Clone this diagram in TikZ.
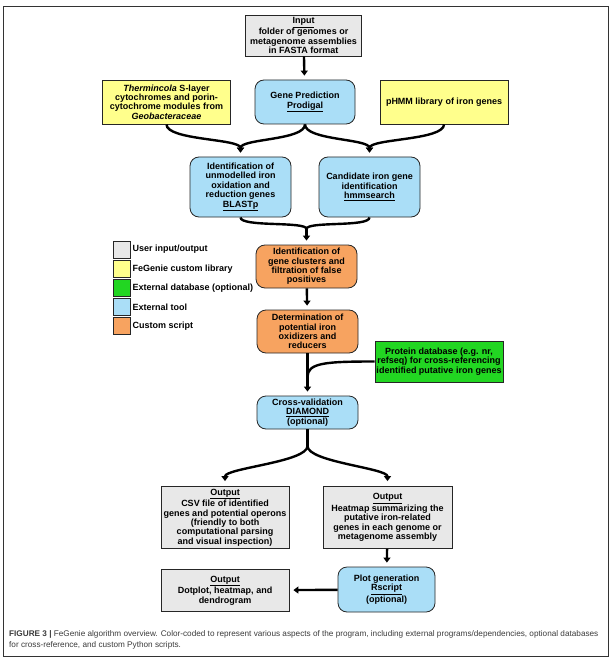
\documentclass[tikz,border=0pt]{standalone}
\usepackage{fontspec}
\setmainfont{Liberation Sans}
\usetikzlibrary{arrows.meta}

\definecolor{usergray}{RGB}{232,232,232}
\definecolor{libyellow}{RGB}{255,255,140}
\definecolor{dbgreen}{RGB}{34,214,34}
\definecolor{toolblue}{RGB}{170,222,247}
\definecolor{scriptorange}{RGB}{247,163,96}
\definecolor{captiongray}{RGB}{60,60,60}

\begin{document}
\begin{tikzpicture}[
    x=1pt, y=-1pt,
    block/.style={draw=black!85, line width=0.8pt, align=center, inner sep=1pt,
        font=\bfseries\fontsize{9}{9.4}\selectfont},
    userbox/.style={block, fill=usergray},
    libbox/.style={block, fill=libyellow},
    dbbox/.style={block, fill=dbgreen},
    toolbox/.style={block, fill=toolblue, rounded corners=9pt},
    scriptbox/.style={block, fill=scriptorange, rounded corners=9pt},
    legsq/.style={draw=black!85, line width=0.8pt, minimum size=17pt, inner sep=0pt},
    legtext/.style={anchor=west, inner sep=0pt, font=\bfseries\fontsize{9}{9.4}\selectfont},
    flow/.style={line width=2.4pt, black},
    flowarr/.style={flow, -{Triangle[length=5pt,width=7pt]}, shorten >=4pt},
]
\useasboundingbox (0,0) rectangle (612,660);
\fill[white] (0,0) rectangle (612,660);
\draw[black!80, line width=0.8pt] (3,6) rectangle (608,656);

% boxes
\node[userbox, minimum width=116pt, minimum height=41pt] (input) at (303.5,35.5) {\underline{Input}\\folder of genomes or\\metagenome assemblies\\in FASTA format};
\node[toolbox, minimum width=100pt, minimum height=44pt] (genepred) at (305,102) {Gene Prediction\\\underline{Prodigal}};
\node[libbox, minimum width=128pt, minimum height=44pt] (thermin) at (166.5,102) {\textit{Thermincola} S-layer\\cytochromes and porin-\\cytochrome modules from\\\textit{Geobacteraceae}};
\node[libbox, minimum width=128pt, minimum height=44pt] (phmm) at (444,102) {pHMM library of iron genes};
\node[toolbox, minimum width=101pt, minimum height=60pt] (blastp) at (240.5,187) {Identification of\\unmodelled iron\\oxidation and\\reduction genes\\\underline{BLASTp}};
\node[toolbox, minimum width=101pt, minimum height=60pt] (hmmsearch) at (369.5,187) {Candidate iron gene\\identification\\\underline{hmmsearch}};
\node[scriptbox, minimum width=101pt, minimum height=43pt] (filtr) at (306.5,266.5) {Identification of\\gene clusters and\\filtration of false\\positives};
\node[scriptbox, minimum width=101pt, minimum height=43pt] (determ) at (307.5,331.5) {Determination of\\potential iron\\oxidizers and\\reducers};
\node[dbbox, minimum width=128pt, minimum height=41pt] (protein) at (439,361.5) {Protein database (e.g. nr,\\refseq) for cross-referencing\\identified putative iron genes};
\node[toolbox, minimum width=101pt, minimum height=33pt] (crossval) at (307.5,412.5) {Cross-validation\\\underline{DIAMOND}\\(optional)};
\node[userbox, minimum width=128pt, minimum height=62pt] (csv) at (225,517.5) {\underline{Output}\\CSV file of identified\\genes and potential operons\\(friendly to both\\computational parsing\\and visual inspection)};
\node[userbox, minimum width=129pt, minimum height=62pt] (heatmap) at (387.5,517.5) {\underline{Output}\\Heatmap summarizing the\\putative iron-related\\genes in each genome or\\metagenome assembly};
\node[toolbox, minimum width=97pt, minimum height=45pt] (plotgen) at (386.5,589.5) {Plot generation\\\underline{Rscript}\\(optional)};
\node[userbox, minimum width=128pt, minimum height=42pt] (dotplot) at (225,590.5) {\underline{Output}\\Dotplot, heatmap, and\\dendrogram};

% legend
\node[legsq, fill=usergray] (legio) at (122,249.5) {};
\node[legsq, fill=libyellow] (leglib) at (122,269) {};
\node[legsq, fill=dbgreen] (legdb) at (122,288) {};
\node[legsq, fill=toolblue] (legtool) at (122,307) {};
\node[legsq, fill=scriptorange] (legscript) at (122,326) {};
\node[legtext] (legiotxt) at (132.5,249.5) {User input/output};
\node[legtext] (leglibtxt) at (132.5,269) {FeGenie custom library};
\node[legtext] (legdbtxt) at (132.5,288) {External database (optional)};
\node[legtext] (legtooltxt) at (132.5,307) {External tool};
\node[legtext] (legscripttxt) at (132.5,326) {Custom script};

% junctions
\coordinate (mrg) at (306.5,229);
\coordinate (jg) at (307.5,377);
\coordinate (sp) at (307.5,446);

\path[flowarr]
    (input) edge (genepred)
    (filtr) edge (determ)
    (determ) edge (crossval)
    (heatmap) edge (plotgen)
    (plotgen) edge (dotplot)
    (mrg) edge (filtr)
;

\draw[flowarr] (thermin.south) .. controls +(0,16) and +(0,-18) .. (blastp.north);
\draw[flowarr] (genepred.south) .. controls +(0,16) and +(0,-18) .. (blastp.north);
\draw[flowarr] (genepred.south) .. controls +(0,16) and +(0,-18) .. (hmmsearch.north);
\draw[flowarr] (phmm.south) .. controls +(0,16) and +(0,-18) .. (hmmsearch.north);
\draw[flow] (blastp.south) .. controls +(0,10) and +(0,-8) .. (mrg);
\draw[flow] (hmmsearch.south) .. controls +(0,10) and +(0,-8) .. (mrg);
\draw[flow] (protein.west) .. controls +(-50,0) and +(0,-14) .. (jg);
\draw[flow] (crossval.south) -- (sp);
\draw[flowarr, shorten >=5pt] (sp) .. controls +(0,16) and +(0,-18) .. (csv.north);
\draw[flowarr, shorten >=5pt] (sp) .. controls +(0,16) and +(0,-18) .. (heatmap.north);

% caption
\node[anchor=north west, align=left, inner sep=0pt, text=captiongray,
    font=\fontsize{8.2}{11}\selectfont] (caption) at (9,630)
    {\textbf{FIGURE 3 |} FeGenie algorithm overview. Color-coded to represent various aspects of the program, including external programs/dependencies, optional databases\\for cross-reference, and custom Python scripts.};
\end{tikzpicture}
\end{document}
